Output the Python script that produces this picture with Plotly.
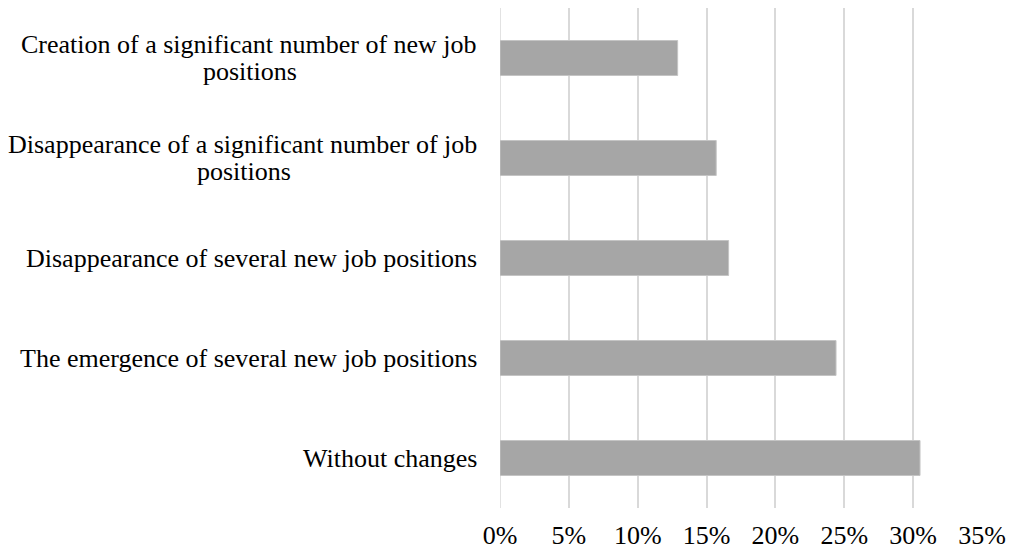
import plotly.graph_objects as go

categories = [
    "Without changes",
    "The emergence of several new job positions",
    "Disappearance of several new job positions",
    "Disappearance of a significant number of job positions",
    "Creation of a significant number of new job positions",
]
# label lines as shown on the chart (first line, second line)
label_lines = [
    ["Without changes"],
    ["The emergence of several new job positions"],
    ["Disappearance of several new job positions"],
    ["Disappearance of a significant number of job", "positions"],
    ["Creation of a significant number of new job", "positions"],
]
values = [30.5, 24.4, 16.6, 15.7, 12.9]
tick_vals = [0, 5, 10, 15, 20, 25, 30, 35]
tick_text = ["0%", "5%", "10%", "15%", "20%", "25%", "30%", "35%"]

font_family = "Liberation Serif, Times New Roman, serif"
FS = 26

fig = go.Figure(
    go.Bar(
        x=values,
        y=categories,
        orientation="h",
        width=0.35,
        marker=dict(color="#a6a6a6", line=dict(color="#c4c4c4", width=1)),
        hoverinfo="x+y",
    )
)

# centre (px left of plot edge) of the wrapped second lines
second_line_centre = {
    "Disappearance of a significant number of job positions": -256,
    "Creation of a significant number of new job positions": -250,
}

annotations = []
for c, lines in zip(categories, label_lines):
    fnt = dict(family=font_family, size=FS, color="#000000")
    if len(lines) == 1:
        annotations.append(dict(x=0, xref="paper", y=c, yref="y", text=lines[0],
                                showarrow=False, xanchor="right", yanchor="middle",
                                xshift=-21, font=fnt))
    else:
        annotations.append(dict(x=0, xref="paper", y=c, yref="y", text=lines[0],
                                showarrow=False, xanchor="right", yanchor="middle",
                                xshift=-21, yshift=13.5, font=fnt))
        annotations.append(dict(x=0, xref="paper", y=c, yref="y", text=lines[1],
                                showarrow=False, xanchor="center", yanchor="middle",
                                xshift=second_line_centre[c], yshift=-13.5, font=fnt))

fig.update_layout(
    width=1011, height=552,
    margin=dict(l=500, r=29, t=8, b=44, autoexpand=False),
    paper_bgcolor="white", plot_bgcolor="white",
    showlegend=False,
    annotations=annotations,
    font=dict(family=font_family, size=FS, color="#000000"),
)
fig.update_xaxes(
    range=[0, 35], tickvals=tick_vals, ticktext=tick_text,
    showgrid=True, gridcolor="#d9d9d9", gridwidth=1.5,
    zeroline=False, showline=False, ticks="",
    ticklabelstandoff=9, automargin=False,
    tickfont=dict(family=font_family, size=FS, color="#000000"),
)
fig.update_yaxes(
    showticklabels=False, showgrid=False, zeroline=False, showline=False,
    automargin=False,
    categoryorder="array", categoryarray=categories,
)
fig.add_shape(type="line", xref="x", yref="paper", x0=0, x1=0, y0=0, y1=1,
              line=dict(color="#d9d9d9", width=1.5), layer="below")

fig.write_html("out.html")
